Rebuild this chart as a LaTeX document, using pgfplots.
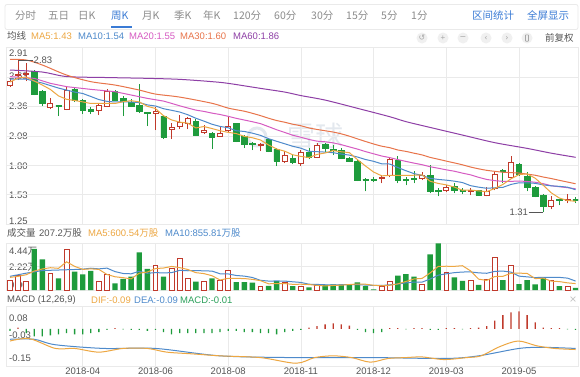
\documentclass[border=0pt]{standalone}
\usepackage{pgfplots}
\pgfplotsset{compat=1.18}
\usepackage{pgfplotstable}
\usepackage{fontspec}
\setmainfont{Liberation Sans}
\newfontfamily\cjk{Noto Sans CJK SC}
\newfontfamily\sym{DejaVu Sans}

\definecolor{cgreen}{HTML}{1E9B3C}
\definecolor{cred}{HTML}{C0392B}
\definecolor{cma5}{HTML}{EDA742}
\definecolor{cma10}{HTML}{4E8ACB}
\definecolor{cma20}{HTML}{D65BC2}
\definecolor{cma30}{HTML}{E8744A}
\definecolor{cma60}{HTML}{8E3FA6}
\definecolor{ctxt}{HTML}{555555}
\definecolor{ctab}{HTML}{8C8C8C}
\definecolor{cblue}{HTML}{3A7BD5}
\definecolor{cgrid}{HTML}{EAEAEA}
\definecolor{cmacdg}{HTML}{2BA05A}
\definecolor{cwm}{HTML}{E3E8EE}

% weekly candles, rising weeks (close > open)
\pgfplotstableread{
i o h l c
0 2.58 2.64 2.56 2.62
1 2.68 2.83 2.63 2.69
2 2.69 2.80 2.62 2.70
5 2.36 2.45 2.34 2.40
7 2.34 2.57 2.33 2.53
11 2.33 2.40 2.28 2.38
12 2.37 2.54 2.36 2.52
18 2.30 2.36 2.13 2.32
20 2.14 2.20 2.04 2.16
21 2.17 2.28 2.14 2.21
22 2.20 2.26 2.14 2.25
24 2.11 2.18 2.09 2.13
26 2.07 2.17 2.06 2.10
27 2.13 2.27 2.11 2.17
31 1.98 2.00 1.92 1.99
34 1.82 1.92 1.80 1.88
36 1.80 1.93 1.77 1.91
38 1.86 2.00 1.85 1.98
46 1.65 1.68 1.60 1.66
47 1.68 1.85 1.66 1.84
51 1.65 1.71 1.63 1.68
54 1.53 1.58 1.51 1.56
57 1.52 1.55 1.48 1.53
59 1.48 1.56 1.47 1.52
60 1.55 1.71 1.53 1.69
62 1.66 1.87 1.64 1.81
67 1.37 1.47 1.34 1.43
69 1.43 1.49 1.40 1.44
}\upt

% weekly candles, falling weeks (close <= open)
\pgfplotstableread{
i o h l c
3 2.72 2.73 2.48 2.49
4 2.52 2.53 2.37 2.40
6 2.38 2.38 2.27 2.37
8 2.54 2.55 2.41 2.43
9 2.43 2.44 2.29 2.33
10 2.34 2.36 2.29 2.32
13 2.52 2.53 2.43 2.43
14 2.45 2.47 2.27 2.42
15 2.41 2.44 2.36 2.37
16 2.38 2.59 2.30 2.32
17 2.31 2.31 2.17 2.30
19 2.27 2.28 2.04 2.06
23 2.22 2.24 2.07 2.08
25 2.10 2.11 1.94 2.06
28 2.20 2.20 2.01 2.02
29 2.07 2.08 1.95 1.99
30 2.00 2.01 1.93 1.99
32 2.04 2.05 1.91 1.92
33 1.94 1.95 1.77 1.82
35 1.85 1.88 1.79 1.81
37 1.91 1.95 1.84 1.86
39 1.99 2.00 1.91 1.95
40 1.94 1.98 1.88 1.93
41 1.93 1.95 1.84 1.85
42 1.85 1.86 1.81 1.82
43 1.82 1.83 1.62 1.63
44 1.64 1.65 1.52 1.63
45 1.64 1.66 1.61 1.63
48 1.83 1.87 1.60 1.63
49 1.64 1.66 1.58 1.63
50 1.65 1.72 1.60 1.64
52 1.68 1.78 1.50 1.52
53 1.53 1.55 1.47 1.52
55 1.57 1.60 1.50 1.53
56 1.53 1.55 1.49 1.52
58 1.53 1.53 1.48 1.48
61 1.73 1.74 1.60 1.72
63 1.79 1.80 1.67 1.69
64 1.67 1.71 1.52 1.56
65 1.56 1.57 1.46 1.47
66 1.48 1.49 1.31 1.37
68 1.44 1.44 1.38 1.43
70 1.44 1.46 1.40 1.43
}\dnt

\pgfplotstableread{
i ma5 ma10 ma20 ma30 ma60
0 2.61 2.64 2.664 2.837 2.73
1 2.65 nan nan nan nan
2 2.66 2.64 nan 2.83 nan
3 2.62 nan 2.647 nan nan
4 2.580 2.60 nan 2.78 2.71
5 2.536 nan 2.597 nan nan
6 2.472 2.55 nan nan nan
7 2.438 nan 2.564 2.68 2.665
8 2.426 2.51 nan nan nan
9 2.412 2.496 nan nan nan
10 2.396 2.466 2.537 2.614 nan
11 2.398 2.435 nan nan nan
12 2.396 2.417 nan nan 2.655
13 2.396 2.411 2.514 2.58 nan
14 2.414 2.413 nan nan nan
15 2.424 2.410 nan nan nan
16 2.412 2.405 nan 2.53 nan
17 2.368 2.382 2.447 nan 2.647
18 2.346 2.371 nan 2.49 nan
19 2.274 2.344 2.420 nan nan
20 2.232 2.328 2.397 nan nan
21 2.210 2.311 2.373 2.46 2.637
22 2.200 2.284 2.351 nan nan
23 2.152 2.249 2.330 nan nan
24 2.166 2.220 2.317 nan nan
25 2.146 2.189 2.300 2.398 2.614
26 2.124 2.167 2.286 nan nan
27 2.108 2.154 2.268 2.35 2.597
28 2.096 2.124 2.248 nan nan
29 2.068 2.117 2.231 2.319 nan
30 2.054 2.100 2.214 2.298 nan
31 2.032 2.078 2.195 2.275 2.547
32 1.982 2.045 2.165 2.249 nan
33 1.942 2.019 2.134 2.226 nan
34 1.920 1.994 2.107 2.209 2.51
35 1.884 1.969 2.079 2.189 nan
36 1.868 1.950 2.059 2.174 2.475
37 1.856 1.919 2.037 2.152 nan
38 1.888 1.915 2.020 2.137 nan
39 1.902 1.911 2.014 2.124 2.43
40 1.926 1.905 2.003 2.111 nan
41 1.914 1.891 1.985 2.093 nan
42 1.906 1.881 1.963 2.070 nan
43 1.836 1.862 1.941 2.043 2.348
44 1.772 1.837 1.916 2.017 nan
45 1.712 1.819 1.894 1.992 nan
46 1.674 1.794 1.872 1.970 nan
47 1.678 1.792 1.856 1.955 2.264
48 1.678 1.757 1.836 1.932 nan
49 1.678 1.725 1.818 1.918 2.215
50 1.680 1.696 1.801 1.900 nan
51 1.684 1.679 1.785 1.883 nan
52 1.620 1.649 1.765 1.858 2.157
53 1.598 1.638 1.750 1.840 nan
54 1.584 1.631 1.734 1.821 nan
55 1.562 1.621 1.720 1.803 nan
56 1.530 1.607 1.701 1.784 2.081
57 1.532 1.576 1.684 1.762 nan
58 1.524 1.561 1.659 1.744 nan
59 1.516 1.550 1.638 1.729 nan
60 1.548 1.555 1.626 1.719 2.005
61 1.588 1.559 1.619 1.710 nan
62 1.644 1.588 1.619 1.706 nan
63 1.686 1.605 1.622 1.702 nan
64 1.694 1.605 1.618 1.691 1.948
65 1.650 1.599 1.610 1.680 nan
66 1.580 1.584 1.596 1.662 nan
67 1.504 1.574 1.575 1.647 1.90
68 1.452 1.569 1.565 1.629 nan
69 1.428 1.561 1.556 1.612 nan
70 1.420 1.535 1.545 1.595 1.859
}\mas

\pgfplotstableread{
i vu vd m5 m10
0 0.95 nan 1.2 1.3
1 1.43 nan 1.3 nan
2 0.79 nan 1.45 1.6
3 nan 3.90 1.8 nan
4 nan 2.92 2.00 1.85
5 1.58 nan 2.12 nan
6 nan 1.11 2.06 1.9
7 3.90 nan 2.68 nan
8 nan 1.74 2.25 1.95
9 nan 1.49 1.96 1.98
10 nan 1.81 2.01 2.07
11 0.86 nan 1.96 2.01
12 1.49 nan 1.48 2.08
13 nan 0.63 1.26 1.75
14 nan 1.05 1.17 1.57
15 nan 1.27 1.06 1.54
16 nan 3.58 1.60 1.78
17 nan 2.00 1.71 1.59
18 2.31 nan 2.04 1.65
19 nan 1.27 2.09 1.63
20 2.06 nan 2.24 1.65
21 3.01 nan 2.13 1.87
22 1.11 nan 1.95 1.83
23 nan 0.80 1.65 1.85
24 0.80 nan 1.56 1.82
25 nan 1.10 1.36 1.80
26 0.95 nan 0.95 1.54
27 1.90 nan 1.11 1.53
28 nan 0.75 1.10 1.38
29 nan 0.75 1.09 1.32
30 nan 0.70 1.01 1.19
31 0.35 nan 0.89 0.92
32 nan 0.40 0.59 0.85
33 nan 0.85 0.61 0.86
34 0.73 nan 0.61 0.85
35 nan 0.38 0.54 0.78
36 0.38 nan 0.55 0.72
37 nan 0.25 0.52 0.55
38 0.48 nan 0.44 0.53
39 nan 0.48 0.39 0.50
40 nan 0.54 0.43 0.48
41 nan 0.54 0.46 0.50
42 nan 0.54 0.52 0.52
43 nan 0.73 0.57 0.51
44 nan 0.38 0.55 0.47
45 nan 0.05 0.45 0.44
46 0.32 nan 0.40 0.43
47 0.79 nan 0.45 0.49
48 nan 1.36 0.58 0.57
49 nan 1.52 0.81 0.68
50 nan 1.27 1.05 0.75
51 0.57 nan 1.10 0.75
52 nan 3.39 1.62 1.04
53 nan 4.44 2.24 1.41
54 1.65 nan 2.26 1.54
55 nan 1.20 2.25 1.65
56 nan 0.86 2.31 1.71
57 0.95 nan 1.82 1.72
58 nan 0.48 1.03 1.63
59 1.05 nan 0.91 1.59
60 3.07 nan 1.28 1.77
61 nan 0.95 1.30 1.80
62 2.38 nan 1.59 1.70
63 nan 0.57 1.60 1.32
64 nan 0.95 1.58 1.25
65 nan 0.54 1.08 1.18
66 nan 1.20 1.13 1.21
67 0.95 nan 0.84 1.21
68 nan 0.38 0.80 1.20
69 0.32 nan 0.68 1.13
70 nan 0.21 0.61 0.85
}\vol

\pgfplotstableread{
i hp hn
0 nan -0.010
1 0.005 nan
2 nan -0.020
3 nan -0.035
4 nan -0.035
5 nan -0.030
6 nan -0.025
7 nan -0.020
8 nan -0.025
9 nan -0.025
10 nan -0.020
11 nan -0.015
12 nan -0.005
13 0.003 nan
14 nan -0.003
15 nan -0.005
16 nan -0.005
17 nan -0.010
18 nan -0.005
19 nan -0.015
20 nan -0.025
21 nan -0.020
22 nan -0.020
23 nan -0.020
24 nan -0.020
25 nan -0.020
26 nan -0.015
27 nan -0.010
28 nan -0.010
29 nan -0.015
30 nan -0.015
31 nan -0.020
32 nan -0.020
33 nan -0.025
34 nan -0.015
35 nan -0.010
36 nan -0.005
37 0.005 nan
38 0.012 nan
39 0.020 nan
40 0.025 nan
41 0.020 nan
42 0.015 nan
43 nan -0.005
44 nan -0.015
45 nan -0.020
46 nan -0.015
47 0.003 nan
48 0.003 nan
49 nan -0.003
50 0.003 nan
51 0.003 nan
52 nan -0.005
53 nan -0.005
54 0.003 nan
55 0.003 nan
56 nan -0.003
57 0.003 nan
58 0.005 nan
59 0.012 nan
60 0.037 nan
61 0.063 nan
62 0.075 nan
63 0.080 nan
64 0.063 nan
65 0.029 nan
66 0.005 nan
67 0.003 nan
68 0.003 nan
69 nan -0.003
70 nan -0.005
}\macd

\pgfplotstableread{
x y
0 -0.048
3 -0.048
5.6 -0.073
11.6 -0.090
18 -0.090
26 -0.124
35 -0.132
45 -0.132
54 -0.136
58 -0.124
63 -0.090
66 -0.085
70 -0.090
}\dea

\pgfplotstableread{
x y
0 -0.056
2.4 -0.045
5.6 -0.090
8 -0.090
11 -0.107
14 -0.090
17 -0.090
19.4 -0.107
22.6 -0.115
26 -0.124
31 -0.132
35.4 -0.158
37.7 -0.132
40 -0.124
42.3 -0.132
44.6 -0.153
46.8 -0.136
49 -0.132
51 -0.129
53.7 -0.141
56.5 -0.132
58.3 -0.124
60.6 -0.082
62.9 -0.056
65.2 -0.078
67.4 -0.090
70 -0.095
}\dif

\pgfplotsset{
  kpanel/.style={
    scale only axis, width=572pt, anchor=south west,
    xmin=-0.495, xmax=70.30,
    xtick={9,18,27,36,45,54,63}, xticklabels={},
    xmajorgrids, grid style={draw=cgrid, line width=0.6pt},
    axis line style={draw=cgrid, line width=0.6pt},
    major tick length=0pt, yticklabels={},
  },
  pricebox/.style={kpanel, at={(posP)}, height=176.4pt, ymin=1.1923, ymax=2.9528},
  overlay/.style={hide axis, xmajorgrids=false, ymajorgrids=false},
}

\begin{document}
\begin{tikzpicture}[x=1pt,y=1pt]
\fill[white] (0,0) rectangle (580,376);
\useasboundingbox (0,0) rectangle (580,376);
\coordinate (posP) at (6,151.9);
\coordinate (posV) at (6,86);
\coordinate (posM) at (6,10);

% tab bar
\draw[cgrid, line width=0.8pt, rounded corners=2pt] (5,371.5) rectangle (578,346.5);
\begin{scope}[every node/.style={anchor=west, inner sep=0pt, font=\cjk\fontsize{10.5}{12}\selectfont, text=ctab}]
\node at (15,360.5) {分时};
\node at (48,360.5) {五日};
\node at (78,360.5) {日K};
\node[text=cblue] at (111,360.5) {周K};
\node at (142,360.5) {月K};
\node at (174,360.5) {季K};
\node at (203,360.5) {年K};
\node at (233,360.5) {120分};
\node at (274,360.5) {60分};
\node at (311,360.5) {30分};
\node at (346,360.5) {15分};
\node at (381,360.5) {5分};
\node at (411,360.5) {1分};
\node[text=cblue] at (472,360.5) {区间统计};
\node[text=cblue] at (527,360.5) {全屏显示};
\end{scope}
\draw[cblue, line width=1.6pt] (111,349) -- (132,349);

% MA header
\begin{scope}[every node/.style={anchor=west, inner sep=0pt, font=\fontsize{9.5}{11}\selectfont}]
\node[text=ctxt] at (7,340) {\cjk 均线};
\node[text=cma5] at (31,340) {MA5:1.43};
\node[text=cma10] at (78,340) {MA10:1.54};
\node[text=cma20] at (129,340) {MA20:1.55};
\node[text=cma30] at (180,340) {MA30:1.60};
\node[text=cma60] at (233,340) {MA60:1.86};
\node[text=ctxt] at (545,338) {\cjk 前复权};
\end{scope}
\foreach \cx/\s in {422/{\sym ↺}, 443/+, 463/{\sym −}, 486/{\sym ‹}, 507/{\sym ›}}{
  \fill[gray!12] (\cx,338) circle (5.5);
  \node[text=gray!70, inner sep=0pt, font=\fontsize{8}{9}\selectfont] at (\cx,338) {\s};
}
\fill[gray!12] (527,338) circle (5.5);
\draw[gray!70, line width=0.6pt, rounded corners=0.6pt] (525.5,334.8) rectangle (528.5,341.2);

% watermark
\draw[cwm, line width=3pt] (257,239) circle (9);
\node[text=cwm, font=\cjk\fontsize{28}{30}\selectfont, inner sep=0pt] at (315,240) {雪球};

% labels
\begin{scope}[every node/.style={anchor=west, inner sep=0pt, font=\fontsize{9.5}{11}\selectfont, text=ctxt}]
\node at (9,322.7) {2.91};
\node at (9,300) {2.63};
\node at (9,270) {2.36};
\node at (9,239.3) {2.08};
\node at (9,210) {1.80};
\node at (9,181) {1.53};
\node at (9,155) {1.25};
\node at (7,143) {\cjk 成交量};
\node at (39,143) {207.2\cjk 万股};
\node[text=cma5] at (88,143) {MA5:600.54\cjk 万股};
\node[text=cma10] at (165,143) {MA10:855.81\cjk 万股};
\node at (9,124.3) {4.44\cjk 万};
\node at (9,108.3) {2.22\cjk 万};
\node at (9,91) {0.00};
\node at (7,76) {MACD (12,26,9)};
\node[text=cma5] at (91,76) {DIF:-0.09};
\node[text=cma10] at (134,76) {DEA:-0.09};
\node[text=cmacdg] at (180,76) {MACD:-0.01};
\node[text=gray!50] at (569,76) {\sym ×};
\node at (9,58) {0.08};
\node at (9,40.5) {-0.03};
\node at (9,17.6) {-0.15};
\end{scope}

% price panel: grid and wicks
\begin{axis}[pricebox,
  ytick={1.1923,1.4857,1.7791,2.0725,2.3660,2.6594,2.9528}, ymajorgrids]
\addplot[draw=none, error bars/.cd, y dir=plus, y explicit, error mark=none,
  error bar style={draw=cred, line width=0.8pt}]
  table[x=i, y=l, y error plus expr=\thisrow{h}-\thisrow{l}] {\upt};
\addplot[draw=none, error bars/.cd, y dir=plus, y explicit, error mark=none,
  error bar style={draw=cgreen, line width=0.8pt}]
  table[x=i, y=l, y error plus expr=\thisrow{h}-\thisrow{l}] {\dnt};
\end{axis}
% rising bodies
\begin{axis}[pricebox, overlay, ybar stacked, bar width=5pt]
\addplot[draw=none, fill=none] table[x=i, y=o] {\upt};
\addplot[draw=cred, fill=white, line width=0.8pt] table[x=i, y expr=\thisrow{c}-\thisrow{o}] {\upt};
\end{axis}
% falling bodies
\begin{axis}[pricebox, overlay, ybar stacked, bar width=5.4pt]
\addplot[draw=none, fill=none] table[x=i, y=c] {\dnt};
\addplot[draw=cgreen, fill=cgreen, line width=0.5pt] table[x=i, y expr=\thisrow{o}-\thisrow{c}] {\dnt};
\end{axis}
% moving averages and extremes
\begin{axis}[pricebox, overlay]
\addplot[cma60, line width=1pt, smooth, no markers] table[x=i, y=ma60] {\mas};
\addplot[cma30, line width=1pt, smooth, no markers] table[x=i, y=ma30] {\mas};
\addplot[cma20, line width=1pt, no markers] table[x=i, y=ma20] {\mas};
\addplot[cma10, line width=1pt, no markers] table[x=i, y=ma10] {\mas};
\addplot[cma5, line width=1pt, no markers] table[x=i, y=ma5] {\mas};
\draw[ctxt, line width=0.6pt] (axis cs:1,2.83) -- (axis cs:2.85,2.83);
\node[anchor=west, inner sep=0.5pt, text=ctxt, font=\fontsize{9.5}{11}\selectfont] at (axis cs:2.85,2.83) {2.83};
\draw[ctxt, line width=0.6pt] (axis cs:64.2,1.31) -- (axis cs:66,1.31);
\node[anchor=east, inner sep=0.5pt, text=ctxt, font=\fontsize{9.5}{11}\selectfont] at (axis cs:64.2,1.31) {1.31};
\end{axis}

% volume panel
\begin{axis}[kpanel, at={(posV)}, height=46.7pt,
  ymin=0, ymax=4.44, ytick={0,2.22,4.44}, ymajorgrids]
\addplot[ybar, bar width=5.4pt, bar shift=0pt, fill=cgreen, draw=none] table[x=i, y=vd] {\vol};
\addplot[ybar, bar width=4.8pt, bar shift=0pt, fill=white, draw=cred, line width=0.8pt] table[x=i, y=vu] {\vol};
\addplot[cma10, line width=1pt, no markers] table[x=i, y=m10] {\vol};
\addplot[cma5, line width=1pt, no markers] table[x=i, y=m5] {\vol};
\end{axis}

% MACD panel
\begin{axis}[kpanel, at={(posM)}, height=60pt,
  ymin=-0.1706, ymax=0.1046, ytick=\empty,
  xticklabels={2018-04,2018-06,2018-08,2018-11,2018-12,2019-03,2019-05},
  xticklabel style={font=\fontsize{9.5}{11}\selectfont, text=ctxt, yshift=2pt}]
\addplot[ybar, bar width=1.3pt, bar shift=0pt, fill=cred, draw=none] table[x=i, y=hp] {\macd};
\addplot[ybar, bar width=1.3pt, bar shift=0pt, fill=cgreen, draw=none] table[x=i, y=hn] {\macd};
\addplot[cma10, line width=1pt, smooth, no markers] table[x=x, y=y] {\dea};
\addplot[cma5, line width=1pt, smooth, no markers] table[x=x, y=y] {\dif};
\end{axis}
\end{tikzpicture}
\end{document}
